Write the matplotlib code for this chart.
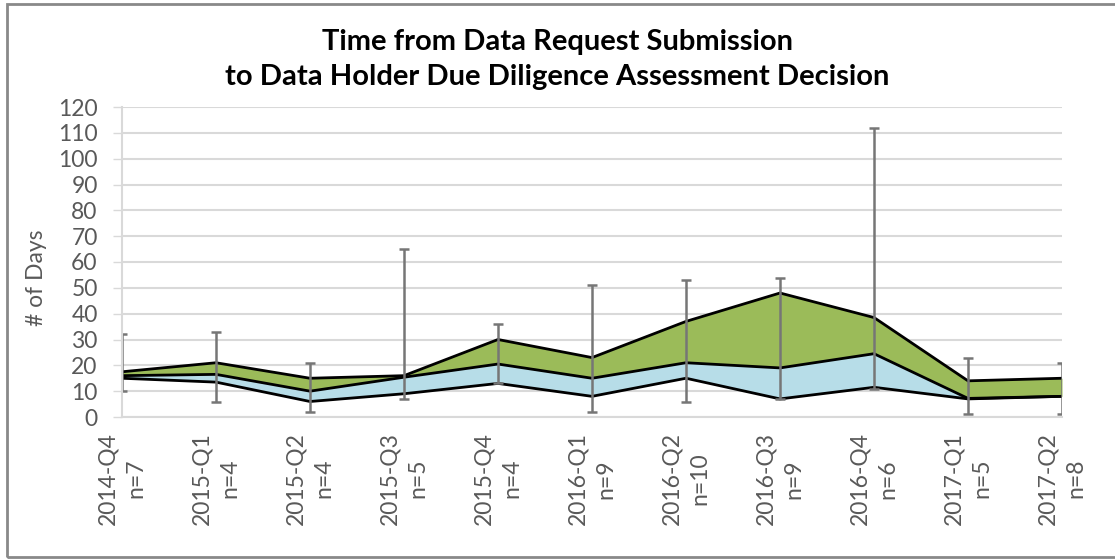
import matplotlib
matplotlib.use("Agg")
import matplotlib.pyplot as plt
from matplotlib.patches import Rectangle
import numpy as np

categories = ['2014-Q4', '2015-Q1', '2015-Q2', '2015-Q3', '2015-Q4', '2016-Q1',
              '2016-Q2', '2016-Q3', '2016-Q4', '2017-Q1', '2017-Q2']
n_counts = [7, 4, 4, 5, 4, 9, 10, 9, 6, 5, 8]
q1_days = [15, 13.5, 6, 9, 13, 8, 15, 7, 11.5, 7, 8]
median_days = [16, 16.5, 10, 15.4, 20.5, 15, 21, 19, 24.5, 7.2, 8]
q3_days = [17.5, 21, 15, 16, 30, 23, 37, 48, 38.5, 14, 15]
min_days = [10, 6, 2, 7, 13, 2, 6, 7, 11, 1, 1]
max_days = [32, 33, 21, 65, 36, 51, 53, 54, 112, 23, 21]

FONT = 'Lato'
GRAY_TXT = '#595959'
GRID = '#d9d9d9'
ERR = '#767676'

fig = plt.figure(figsize=(11.15, 5.6), dpi=100)
ax = fig.add_axes([122/1115, 1-417/560, (1062-122)/1115, (417-107)/560])

x = np.arange(len(categories))
ax.fill_between(x, q1_days, median_days, color='#b7dde8', linewidth=0, zorder=2)
ax.fill_between(x, median_days, q3_days, color='#9bbb59', linewidth=0, zorder=2)
for s in (q1_days, median_days, q3_days):
    ax.plot(x, s, color='black', linewidth=2.0, zorder=3, solid_joinstyle='miter')

cap_half = 0.058
ax.vlines(x, min_days, max_days, color=ERR, linewidth=1.8, zorder=4)
ax.hlines(min_days, x - cap_half, x + cap_half, color=ERR, linewidth=1.8, zorder=4)
ax.hlines(max_days, x - cap_half, x + cap_half, color=ERR, linewidth=1.8, zorder=4)

ax.set_xlim(0, len(categories) - 1)
ax.set_ylim(0, 120)
ax.set_yticks(np.arange(0, 121, 10))
ax.set_xticks(x)
ax.set_xticklabels([f"{c}\nn={n}" for c, n in zip(categories, n_counts)],
                   rotation=90, fontsize=16.5, family=FONT, color=GRAY_TXT,
                   multialignment='center', linespacing=1.4, va='top', ha='center')
for lab in ax.get_yticklabels():
    lab.set_fontsize(16.5)
    lab.set_family(FONT)
    lab.set_color(GRAY_TXT)
ax.tick_params(axis='y', length=6.5, width=1, color=GRID, pad=11)
ax.tick_params(axis='x', length=0, pad=11)
ax.grid(axis='y', color=GRID, linewidth=1.5, zorder=0)
ax.set_axisbelow(True)
for side in ('top', 'right'):
    ax.spines[side].set_visible(False)
for side in ('left', 'bottom'):
    ax.spines[side].set_color(GRID)
    ax.spines[side].set_linewidth(1.5)
    ax.spines[side].set_zorder(5)

ax.set_ylabel('# of Days', fontsize=16.5, family=FONT, color=GRAY_TXT)
ax.yaxis.set_label_coords(-0.08, 0.45)

fig.text(0.5, 1-42/560, 'Time from Data Request Submission', ha='center', va='center',
         fontsize=21, fontweight='bold', family=FONT, color='black')
fig.text(0.5, 1-77/560, 'to Data Holder Due Diligence Assessment Decision', ha='center', va='center',
         fontsize=21, fontweight='bold', family=FONT, color='black')

fig.patches.append(Rectangle((7/1115, 1-557/560), 1.1, (557-4)/560, transform=fig.transFigure,
                             fill=False, edgecolor='#898989', linewidth=2, figure=fig))

fig.savefig('out.png', dpi=100)
